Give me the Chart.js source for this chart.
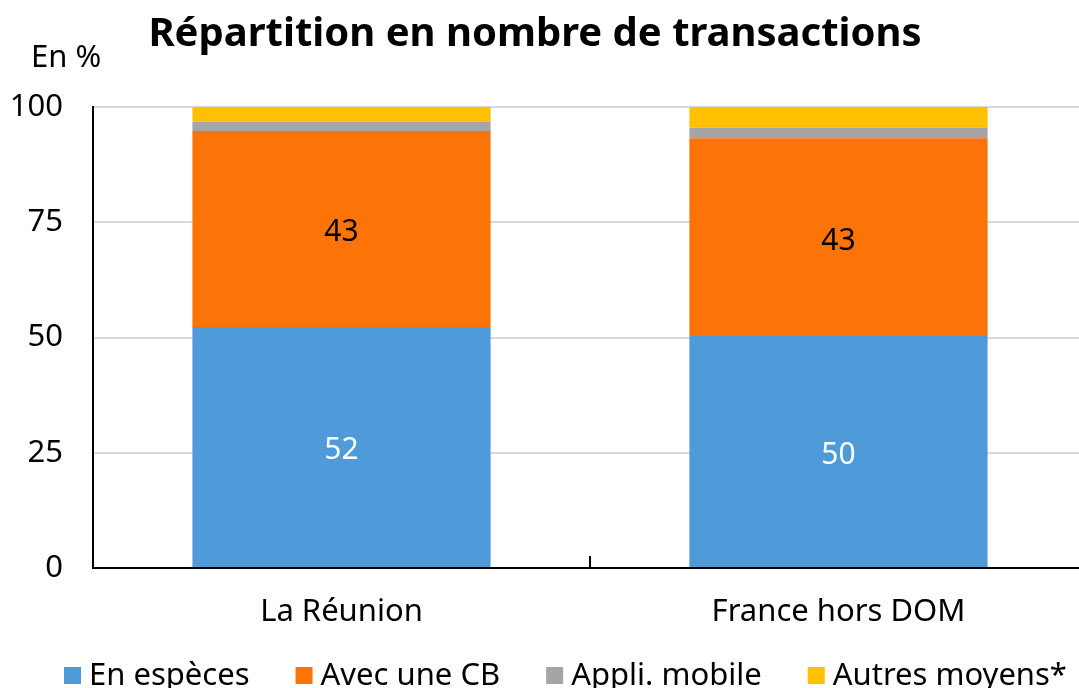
<!DOCTYPE html>
<html><head><meta charset="utf-8">
<script src="https://cdn.jsdelivr.net/npm/chart.js@4.4.0/dist/chart.umd.min.js"></script>
<style>html,body{margin:0;padding:0;background:#fff;overflow:hidden}#wrap{width:1087px;height:688px}</style>
</head><body><div id="wrap"><canvas id="c" width="1087" height="688"></canvas></div>
<script>
const categories = ["La Réunion", "France hors DOM"];
const especes = [52.3, 50.3];
const carteCB = [42.5, 42.9];
const appliMobile = [2.0, 2.3];
const autresMoyens = [3.2, 4.5];
const seriesNames = ["En espèces", "Avec une CB", "Appli. mobile", "Autres moyens*"];
const seriesColors = ['#4F9AD8', '#FC7308', '#A5A5A5', '#FFC000'];
const yTicks = [0, 25, 50, 75, 100];
const titleText = "Répartition en nombre de transactions";
const unitText = "En %";

const FONT = "'Noto Sans', 'Open Sans', sans-serif";
const FS = 31;

const labelsPlugin = {
  id: 'segLabels',
  afterDatasetsDraw(chart) {
    const ctx = chart.ctx;
    ctx.save();
    ctx.font = "30px " + FONT;
    ctx.textAlign = 'center';
    ctx.textBaseline = 'middle';
    [0, 1].forEach(di => {
      const meta = chart.getDatasetMeta(di);
      meta.data.forEach((el, i) => {
        const v = chart.data.datasets[di].data[i];
        ctx.fillStyle = di === 0 ? '#ffffff' : '#000000';
        ctx.fillText(String(Math.round(v)), el.x, (el.y + el.base) / 2 + 4);
      });
    });
    ctx.restore();
  }
};

const extrasPlugin = {
  id: 'extras',
  afterDraw(chart) {
    const ctx = chart.ctx;
    const xs = chart.scales.x;
    const area = chart.chartArea;
    ctx.save();
    // inner tick mark between categories
    ctx.strokeStyle = '#000';
    ctx.lineWidth = 2;
    for (let i = 0; i < categories.length - 1; i++) {
      const mid = (xs.getPixelForValue(i) + xs.getPixelForValue(i + 1)) / 2;
      ctx.beginPath();
      ctx.moveTo(mid, area.bottom);
      ctx.lineTo(mid, area.bottom - 12);
      ctx.stroke();
    }
    ctx.fillStyle = '#000';
    // title
    ctx.font = "bold 40px " + FONT;
    ctx.textAlign = 'center';
    ctx.textBaseline = 'alphabetic';
    ctx.fillText(titleText, 535, 46);
    // unit label
    ctx.font = FS + "px " + FONT;
    ctx.textAlign = 'left';
    ctx.fillText(unitText, 31, 67);
    // legend built from the datasets
    let x = 64;
    chart.data.datasets.forEach(ds => {
      ctx.fillStyle = ds.backgroundColor;
      ctx.fillRect(x, 667, 17, 17);
      ctx.fillStyle = '#000';
      ctx.fillText(ds.label, x + 25, 685);
      x += 25 + ctx.measureText(ds.label).width + 46;
    });
    ctx.restore();
  }
};

new Chart(document.getElementById('c'), {
  type: 'bar',
  data: {
    labels: categories,
    datasets: seriesNames.map((n, k) => ({
      label: n,
      data: [especes, carteCB, appliMobile, autresMoyens][k],
      backgroundColor: seriesColors[k]
    }))
  },
  options: {
    responsive: false,
    animation: false,
    events: [],
    layout: { padding: { top: 107, left: 0, right: 0, bottom: 0 } },
    datasets: { bar: { categoryPercentage: 1.0, barPercentage: 0.6, borderWidth: 0 } },
    plugins: {
      title: { display: false },
      legend: { display: false },
      tooltip: { enabled: false }
    },
    scales: {
      x: {
        stacked: true,
        grid: { display: false, drawTicks: false },
        border: { display: true, color: '#000', width: 2 },
        ticks: { color: '#000', font: { family: FONT, size: FS }, padding: 26 },
        afterFit(s) { s.height = 120; }
      },
      y: {
        stacked: true,
        min: 0, max: 100,
        afterBuildTicks(s) { s.ticks = yTicks.map(v => ({ value: v })); },
        grid: { color: '#D9D9D9', lineWidth: 2, drawTicks: false },
        border: { display: true, color: '#000', width: 2 },
        ticks: { color: '#000', font: { family: FONT, size: FS }, padding: 30 },
        afterFit(s) { s.width = 93; }
      }
    }
  },
  plugins: [labelsPlugin, extrasPlugin]
});
</script></body></html>
